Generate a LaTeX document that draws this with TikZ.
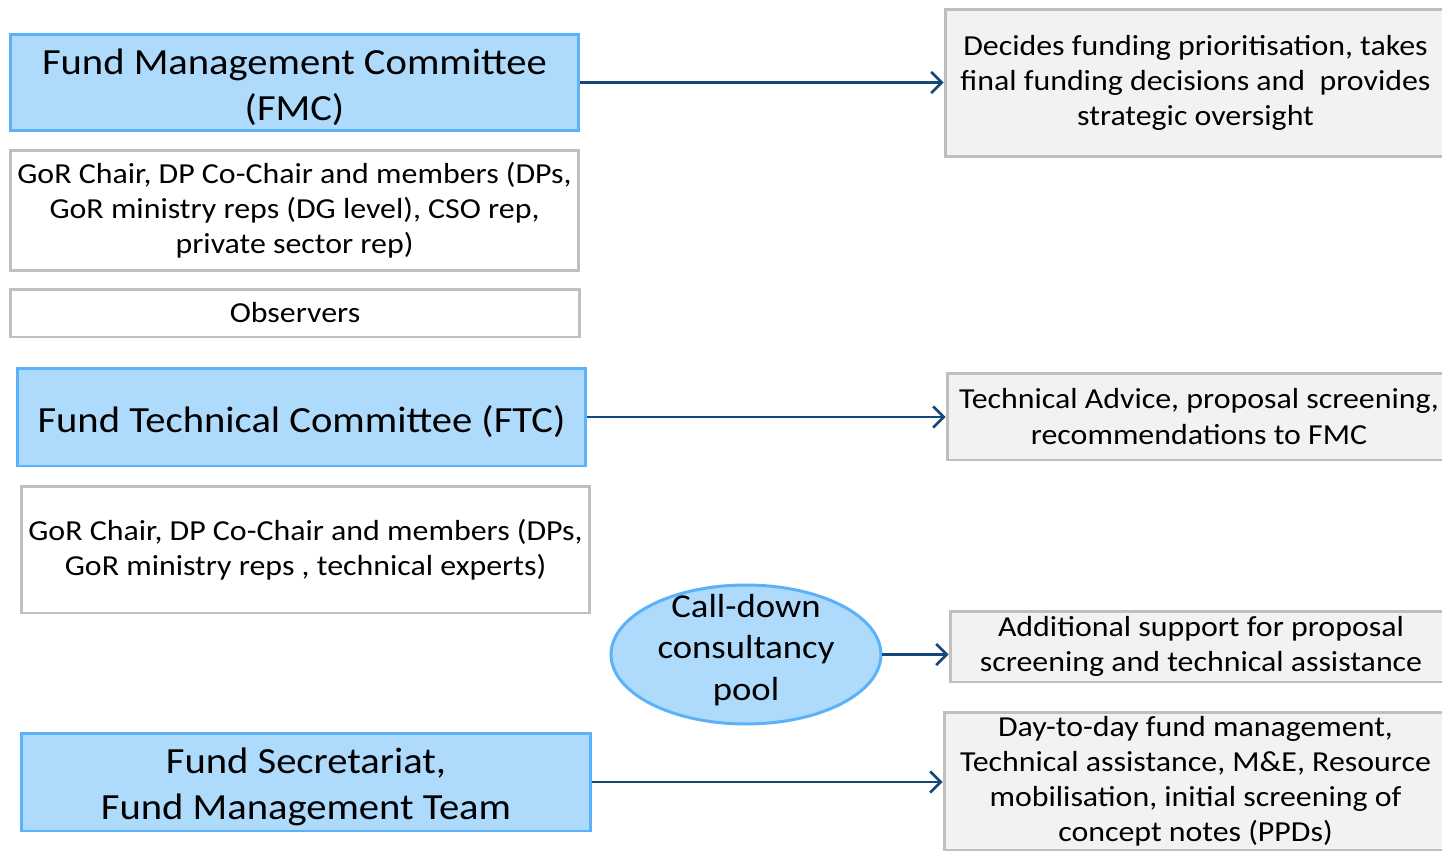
\documentclass[tikz,border=0pt]{standalone}
\usepackage{fontspec}
\setmainfont{Carlito}[FakeStretch=1.1]
\usepackage{tikz}
\usetikzlibrary{arrows.meta}
\usetikzlibrary{shapes.geometric}

\definecolor{bodyblue}{RGB}{174,218,252}
\definecolor{bodyedge}{RGB}{92,178,248}
\definecolor{roleedge}{RGB}{191,191,191}
\definecolor{rolefill}{RGB}{242,242,242}
\definecolor{linkblue}{RGB}{20,72,120}

% extra room above the first line of a body box
\newcommand{\lift}{\rule{0pt}{20pt}}

\tikzset{
  body/.style={draw=bodyedge, fill=bodyblue, line width=1.7pt, align=center,
    inner sep=0pt, font=\fontsize{21}{26}\selectfont},
  members/.style={draw=roleedge, fill=white, line width=1.7pt, align=center,
    inner sep=0pt, font=\fontsize{16.5}{20}\selectfont},
  role/.style={draw=roleedge, fill=rolefill, line width=1.7pt, align=center,
    inner sep=0pt, font=\fontsize{16.5}{20}\selectfont},
  link/.style={draw=linkblue, line width=1.3pt,
    -{Straight Barb[length=6pt,width=12pt,line width=1.5pt]}}
}

\begin{document}
\begin{tikzpicture}[x=0.02cm, y=-0.02cm]
    \useasboundingbox (0,0) rectangle (1442,852);
    \clip (0,0) rectangle (1442,852);
    % committees on the left
    \node[body, minimum width=11.38cm, minimum height=1.94cm] (fmc) at (294.5,82.5)
      {\lift Fund Management Committee\\(FMC)};
    \node[members, minimum width=11.38cm, minimum height=2.42cm] (fmcm) at (294.5,210.5)
      {GoR Chair, DP Co-Chair and members (DPs,\\GoR ministry reps (DG level), CSO rep,\\private sector rep)};
    \node[members, minimum width=11.4cm, minimum height=0.96cm] (obs) at (295,313) {Observers};
    \node[body, minimum width=11.38cm, minimum height=1.96cm] (ftc) at (301.5,417)
      {\lift Fund Technical Committee (FTC)};
    \node[members, minimum width=11.38cm, minimum height=2.54cm] (ftcm) at (305.5,549.5)
      {GoR Chair, DP Co-Chair and members (DPs,\\GoR ministry reps , technical experts)};
    \node[body, ellipse, inner xsep=0pt, inner ysep=-7pt,
      minimum width=5.4cm, minimum height=2.78cm,
      font=\fontsize{19}{23.5}\selectfont]
      (pool) at (746,654.5) {Call-down\\consultancy\\pool\rule[-8.2pt]{0pt}{8.2pt}};
    \node[body, minimum width=11.4cm, minimum height=1.96cm] (sec) at (306,782)
      {\lift Fund Secretariat,\\Fund Management Team};
    % what each one does
    \node[role, minimum width=10.02cm, minimum height=2.96cm] (fmcr) at (1195.5,83)
      {Decides funding prioritisation, takes\\final funding decisions and\ \ provides\\strategic oversight};
    \node[role, minimum width=10.08cm, minimum height=1.74cm] (ftcr) at (1199,416.5)
      {Technical Advice, proposal screening,\\recommendations to FMC};
    \node[role, minimum width=10.04cm, minimum height=1.42cm] (poolr) at (1201,646.5)
      {Additional support for proposal\\screening and technical assistance};
    \node[role, minimum width=10.06cm, minimum height=2.76cm] (secr) at (1195.5,781)
      {Day-to-day fund management,\\Technical assistance, M\&E, Resource\\mobilisation, initial screening of\\concept notes (PPDs)};
    \draw[link] (fmc) to (fmcr.west |- fmc);
    \draw[link] (ftc) to (ftcr.west |- ftc);
    \draw[link] (pool) to (poolr.west |- pool);
    \draw[link] (sec) to (secr.west |- sec);
\end{tikzpicture}
\end{document}
